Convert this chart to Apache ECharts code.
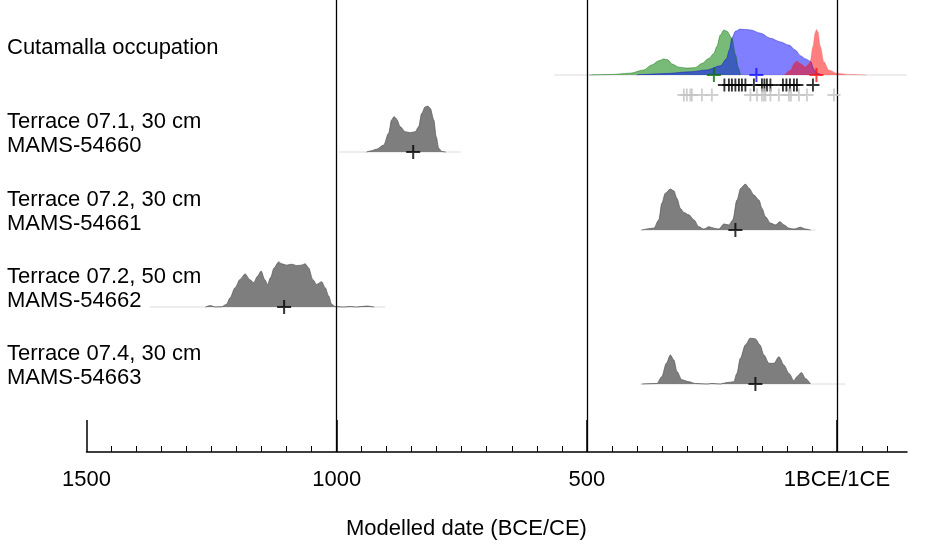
<!DOCTYPE html>
<html>
<head>
<meta charset="utf-8">
<script src="https://cdn.jsdelivr.net/npm/echarts@6/dist/echarts.min.js"></script>
<style>
  html, body { margin: 0; padding: 0; background: #fff; }
  #chart { width: 935px; height: 546px; }
</style>
</head>
<body>
<div id="chart"></div>
<script>
// years on the x axis: BCE negative, CE positive
var axisMin = -1500, axisMax = 140;
var majorTicks = [-1500, -1000, -500, 0];
var refLines = [-1000, -500, 0];
var minorTicks = [];
for (var t = -1450; t <= 100; t += 50) { if (t % 500 !== 0) minorTicks.push(t); }

var rowLabels = [
  ['Cutamalla occupation'],
  ['Terrace 07.1, 30 cm', 'MAMS-54660'],
  ['Terrace 07.2, 30 cm', 'MAMS-54661'],
  ['Terrace 07.2, 50 cm', 'MAMS-54662'],
  ['Terrace 07.4, 30 cm', 'MAMS-54663']
];

// Cutamalla phase: [year, relative probability]
var cutGreen = [[-495,0],[-453,0.01],[-413,0.04],[-386,0.11],[-370,0.22],[-356,0.31],[-346,0.35],[-338,0.33],[-330,0.24],[-316,0.17],[-300,0.15],[-283,0.16],[-270,0.25],[-256,0.36],[-246,0.47],[-240,0.62],[-233,0.87],[-226,0.98],[-220,0.95],[-210,0.8],[-203,0.45],[-197,0.15],[-193,0]];
var cutBlue = [[-400,0],[-393,0.01],[-346,0.03],[-293,0.07],[-260,0.11],[-233,0.2],[-221,0.35],[-215,0.55],[-210,0.8],[-203,0.95],[-193,1.0],[-173,0.98],[-153,0.91],[-133,0.8],[-113,0.72],[-96,0.65],[-83,0.54],[-73,0.42],[-63,0.35],[-53,0.3],[-46,0.12],[-40,0.04],[-30,0]];
var cutRed = [[-105,0],[-93,0.11],[-86,0.25],[-80,0.31],[-73,0.25],[-63,0.18],[-54,0.27],[-48,0.62],[-44,0.91],[-41,0.99],[-38,0.94],[-33,0.62],[-26,0.29],[-16,0.11],[0,0.04],[27,0.01],[60,0]];
var cutMedians = [-246, -161, -41];
var blackDates = [-225,-216,-210,-203,-196,-190,-183,-166,-150,-145,-140,-133,-108,-101,-94,-86,-80,-48];
var grayDates = [-306,-300,-293,-290,-270,-250,-173,-160,-150,-146,-143,-133,-116,-96,-92,-76,-60,-6];

// single dates
var ms54660 = [[-940,0],[-933,0.02],[-920,0.06],[-906,0.15],[-896,0.41],[-890,0.7],[-885,0.77],[-880,0.71],[-873,0.55],[-863,0.44],[-853,0.42],[-843,0.44],[-836,0.55],[-830,0.84],[-823,0.98],[-818,1.0],[-813,0.95],[-806,0.7],[-801,0.33],[-796,0.08],[-790,0.01],[-782,0]];
var ms54661 = [[-390,0],[-366,0.04],[-356,0.22],[-350,0.58],[-343,0.8],[-333,0.89],[-326,0.85],[-320,0.69],[-313,0.47],[-306,0.38],[-296,0.33],[-286,0.22],[-276,0.07],[-266,0.02],[-256,0.07],[-246,0.04],[-236,0.02],[-226,0.13],[-216,0.11],[-208,0.22],[-200,0.65],[-192,0.91],[-183,1.0],[-176,0.91],[-166,0.76],[-156,0.65],[-150,0.47],[-143,0.29],[-133,0.15],[-123,0.11],[-114,0.18],[-106,0.11],[-96,0.04],[-86,0.02],[-73,0.06],[-63,0.02],[-53,0]];
var ms54662 = [[-1262,0],[-1252,0.03],[-1243,0],[-1230,0.005],[-1220,0.06],[-1213,0.2],[-1203,0.42],[-1193,0.6],[-1183,0.72],[-1174,0.6],[-1166,0.53],[-1158,0.67],[-1151,0.78],[-1144,0.6],[-1138,0.49],[-1132,0.64],[-1125,0.85],[-1116,0.98],[-1110,0.94],[-1100,0.91],[-1090,0.93],[-1080,0.9],[-1070,0.91],[-1063,0.94],[-1056,0.85],[-1048,0.6],[-1040,0.49],[-1030,0.55],[-1023,0.42],[-1016,0.24],[-1010,0.06],[-1003,0.01],[-986,0],[-973,0.01],[-960,0],[-940,0.02],[-925,0]];
var ms54663 = [[-390,0],[-360,0.01],[-350,0.16],[-341,0.45],[-333,0.63],[-326,0.52],[-320,0.27],[-310,0.09],[-296,0.05],[-283,0.01],[-260,0],[-250,0.01],[-233,0],[-220,0.03],[-206,0.05],[-200,0.23],[-193,0.56],[-183,0.85],[-173,1.0],[-163,0.98],[-154,0.85],[-146,0.63],[-136,0.45],[-126,0.45],[-116,0.59],[-106,0.41],[-96,0.23],[-86,0.07],[-80,0.16],[-71,0.25],[-63,0.12],[-53,0]];
var singleDates = [ms54660, ms54661, ms54662, ms54663];
var singleMedians = [-847, -203, -1105, -163];

// faint baseline extent of each row
var tails = [[-565,140],[-995,-752],[-393,-43],[-1373,-903],[-393,17]];

// layout
var rowBase = [75, 152, 230, 307, 384];
var peakPx = 46;
var crossPath = 'path://M6,0H8V14H6Z M0,6H14V8H0Z';
var font = '"Liberation Sans", Arial, sans-serif';

var grids = [
  { left: 86.5, right: 28, top: 0, bottom: 94 },
  { left: 86.5, right: 28, top: 0, bottom: 94 }
];
var xAxes = [
  {
    gridIndex: 0, type: 'value', min: axisMin, max: axisMax,
    axisLine: { onZero: false, lineStyle: { color: '#000', width: 1.5 } },
    axisTick: { inside: true, length: 32, customValues: majorTicks, lineStyle: { color: '#000', width: 1.5 } },
    axisLabel: {
      customValues: majorTicks, margin: 17, color: '#000', fontSize: 22, fontFamily: font,
      formatter: function (v) { return v === 0 ? '1BCE/1CE' : String(-v); }
    },
    splitLine: { show: false }
  },
  {
    gridIndex: 1, type: 'value', min: axisMin, max: axisMax,
    axisLine: { show: false, onZero: false },
    axisTick: { inside: true, length: 6, customValues: minorTicks, lineStyle: { color: '#000', width: 1 } },
    axisLabel: { show: false },
    splitLine: { show: false }
  }
];
var yAxes = [
  { gridIndex: 0, type: 'value', min: 0, max: 1, show: false },
  { gridIndex: 1, type: 'value', min: 0, max: 1, show: false }
];

var series = [{
  type: 'line', xAxisIndex: 0, yAxisIndex: 0, data: [[axisMin, 0]], symbol: 'none', silent: true,
  lineStyle: { width: 0 },
  markLine: {
    silent: true, symbol: 'none', label: { show: false },
    lineStyle: { color: '#000', width: 1.3, type: 'solid' },
    data: refLines.map(function (v) { return { xAxis: v }; })
  }
}];

function area(gi, data, fill, edge) {
  return {
    type: 'line', xAxisIndex: gi, yAxisIndex: gi, data: data, smooth: 0.3, smoothMonotone: 'x',
    symbol: 'none', silent: true, z: 3,
    lineStyle: { color: edge, width: 0.8 },
    areaStyle: { color: fill, opacity: 1 }
  };
}
function crosses(gi, xs, yv, color, size) {
  return {
    type: 'scatter', xAxisIndex: gi, yAxisIndex: gi, silent: true, z: 5,
    data: xs.map(function (x) { return [x, yv]; }),
    symbol: crossPath, symbolSize: size, itemStyle: { color: color }
  };
}

var graphics = [];
rowBase.forEach(function (base, i) {
  var gi = i + 2;
  grids.push({ left: 86.5, right: 28, top: base - peakPx, height: peakPx * 1.5 });
  xAxes.push({ gridIndex: gi, type: 'value', min: axisMin, max: axisMax, show: false });
  yAxes.push({ gridIndex: gi, type: 'value', min: -0.5, max: 1, show: false });
  series.push({
    type: 'line', xAxisIndex: gi, yAxisIndex: gi, symbol: 'none', silent: true, z: 2,
    data: [[tails[i][0], 0], [tails[i][1], 0]],
    lineStyle: { color: '#dcdcdc', width: 1 }
  });
  if (i === 0) {
    series.push(area(gi, cutGreen, 'rgba(30,140,30,0.6)', 'rgba(0,110,0,0.6)'));
    series.push(area(gi, cutBlue, 'rgba(0,0,255,0.5)', 'rgba(0,0,200,0.5)'));
    series.push(area(gi, cutRed, 'rgba(255,0,0,0.5)', 'rgba(255,80,80,0.3)'));
    series.push(crosses(gi, [cutMedians[0]], 0, '#0a6e0a', 14));
    series.push(crosses(gi, [cutMedians[1]], 0, '#1010ff', 14));
    series.push(crosses(gi, [cutMedians[2]], 0, '#ff1010', 14));
    series.push(crosses(gi, blackDates, -10 / peakPx, '#000', 13));
    series.push(crosses(gi, grayDates, -20 / peakPx, '#c4c4c4', 13));
  } else {
    series.push(area(gi, singleDates[i - 1], '#7e7e7e', '#5e5e5e'));
    series.push(crosses(gi, [singleMedians[i - 1]], 0, '#000', 14));
  }
  var lines = rowLabels[i];
  var y0 = lines.length === 1 ? base - 28 : base - 31;
  lines.forEach(function (txt, k) {
    graphics.push({
      type: 'text', left: 7, top: y0 + 24 * k - 10,
      style: { text: txt, font: '22px ' + font, fill: '#000' }
    });
  });
});
graphics.push({
  type: 'text', left: 346, top: 518,
  style: { text: 'Modelled date (BCE/CE)', font: '22px ' + font, fill: '#000' }
});

var chart = echarts.init(document.getElementById('chart'), null, { renderer: 'canvas' });
chart.setOption({
  backgroundColor: '#fff',
  animation: false,
  grid: grids,
  xAxis: xAxes,
  yAxis: yAxes,
  series: series,
  graphic: graphics
});
</script>
</body>
</html>
